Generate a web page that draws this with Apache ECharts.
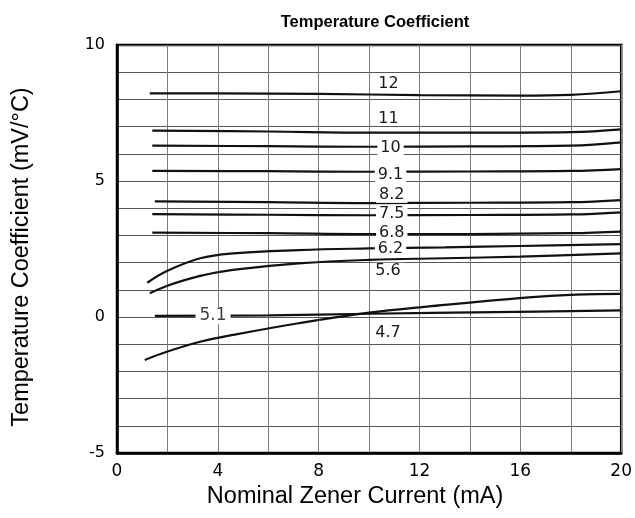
<!DOCTYPE html>
<html>
<head>
<meta charset="utf-8">
<script src="https://cdn.jsdelivr.net/npm/echarts@6/dist/echarts.min.js"></script>
<style>
html,body{margin:0;padding:0;background:#fff;}
#chart{width:635px;height:518px;}
</style>
</head>
<body>
<div id="chart"></div>
<script>
// Zener voltage curves: [current mA, temp coefficient mV/°C]
const v12  = [[1.3,8.22],[4,8.22],[8,8.2],[12,8.16],[16,8.14],[18,8.17],[20,8.3]];
const v11  = [[1.4,6.85],[6,6.82],[10,6.78],[14,6.78],[18,6.8],[20,6.9]];
const v10  = [[1.4,6.3],[6,6.28],[10,6.26],[14,6.27],[18,6.3],[20,6.42]];
const v9_1 = [[1.4,5.37],[6,5.36],[10,5.34],[14,5.35],[18,5.37],[20,5.44]];
const v8_2 = [[1.5,4.25],[6,4.22],[10,4.19],[14,4.2],[18,4.22],[20,4.3]];
const v7_5 = [[1.4,3.78],[6,3.76],[10,3.74],[14,3.75],[18,3.77],[20,3.85]];
const v6_8 = [[1.4,3.1],[6,3.08],[10,3.05],[14,3.05],[18,3.08],[20,3.14]];
const v6_2 = [[1.2,1.26],[2,1.7],[3.3,2.16],[4.6,2.34],[7.2,2.46],[10,2.52],[13,2.56],[16,2.61],[20,2.68]];
const v5_6 = [[1.3,0.87],[2,1.15],[3.3,1.51],[4.6,1.73],[7.2,1.97],[10,2.1],[13,2.16],[16,2.22],[20,2.34]];
const v5_1 = [[1.5,0.04],[6,0.06],[10,0.12],[15,0.18],[20,0.24]];
const v4_7 = [[1.1,-1.58],[2,-1.27],[3.3,-0.91],[4.6,-0.66],[7.2,-0.23],[10,0.16],[12.3,0.38],[16.2,0.71],[18.2,0.82],[20,0.85]];

const seriesNames = ['12','11','10','9.1','8.2','7.5','6.8','6.2','5.6','5.1','4.7'];
const seriesData  = [v12,v11,v10,v9_1,v8_2,v7_5,v6_8,v6_2,v5_6,v5_1,v4_7];

// curve labels: [text, x (mA), y (mV/°C), white background]
const curveLabels = [
  ['12',10.77,8.59,false],
  ['11',10.77,7.30,false],
  ['10',10.85,6.21,true],
  ['9.1',10.85,5.22,true],
  ['8.2',10.9,4.49,true],
  ['7.5',10.9,3.78,true],
  ['6.8',10.9,3.08,true],
  ['6.2',10.85,2.49,true],
  ['5.6',10.75,1.70,true],
  ['4.7',10.75,-0.60,true]
];
const bigLabels = [['5.1',3.81,0.05]];

const xTicks = [0,4,8,12,16,20];
const yTicks = [-5,0,5,10];

const FONT = '"Liberation Sans", Arial, sans-serif';
const WIDE = '"DejaVu Sans", sans-serif';

const series = seriesNames.map((n,i)=>({
  name:n, type:'line', data:seriesData[i], smooth:0.4, symbol:'none',
  lineStyle:{color:'#111',width:2.2}, z:3, silent:true
}));
series.push({
  type:'scatter', symbolSize:0, z:10, silent:true, itemStyle:{opacity:1},
  data: curveLabels.map(l=>({value:[l[1],l[2]], name:l[0],
    label:{show:true, position:'inside', formatter:l[0], opacity:1,
      fontSize:16, fontFamily:WIDE, color:'#1a1a1a',
      backgroundColor: l[3] ? '#fff' : 'transparent', padding:[0,3]}}))
});
series.push({
  type:'scatter', symbolSize:0, z:10, silent:true, itemStyle:{opacity:1},
  data: bigLabels.map(l=>({value:[l[1],l[2]], name:l[0],
    label:{show:true, position:'inside', formatter:l[0], opacity:1,
      fontSize:17, fontFamily:WIDE, color:'#3a3f4a',
      backgroundColor:'#fff', padding:[0,4]}}))
});

const chart = echarts.init(document.getElementById('chart'));
chart.setOption({
  animation:false,
  backgroundColor:'#fff',
  title:{text:'Temperature Coefficient', left:370, top:9, textAlign:'center',
    textStyle:{fontFamily:FONT, fontSize:16.5, fontWeight:'bold', color:'#000'}},
  grid:{left:117, right:13, top:45, bottom:65, show:true, borderColor:'#000', borderWidth:2.5},
  xAxis:{type:'value', min:0, max:20, interval:2,
    name:'Nominal Zener Current (mA)', nameLocation:'middle', nameGap:32,
    nameTextStyle:{fontFamily:FONT, fontSize:23.5, color:'#000', padding:[0,28,0,0]},
    axisLine:{show:true, onZero:false, lineStyle:{color:'#000', width:2.5}},
    axisTick:{show:false},
    axisLabel:{fontFamily:WIDE, fontSize:17, color:'#000', margin:10,
      formatter:v=> xTicks.includes(v) ? String(v) : ''},
    splitLine:{show:true, lineStyle:{color:'#7a7a7a', width:1}}},
  yAxis:{type:'value', min:-5, max:10, interval:1,
    name:'Temperature Coefficient (mV/°C)', nameLocation:'middle', nameGap:83, nameRotate:90,
    nameTextStyle:{fontFamily:FONT, fontSize:23.5, color:'#000', padding:[0,16,0,0]},
    axisLine:{show:true, onZero:false, lineStyle:{color:'#000', width:2.5}},
    axisTick:{show:false},
    axisLabel:{fontFamily:WIDE, fontSize:16, color:'#000', margin:12,
      formatter:v=> yTicks.includes(v) ? String(v) : ''},
    splitLine:{show:true, lineStyle:{color:'#555', width:1}}},
  series:series
});
</script>
</body>
</html>
